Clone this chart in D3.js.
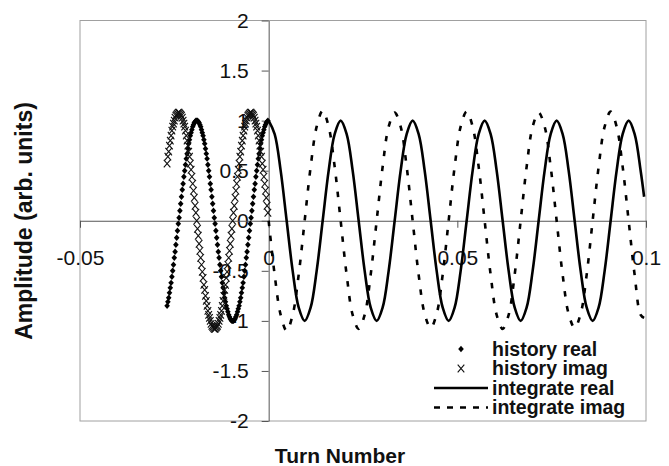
<!DOCTYPE html>
<html>
<head>
<meta charset="utf-8">
<script src="https://cdn.jsdelivr.net/npm/d3@7"></script>
<style>
  html, body { margin: 0; padding: 0; background: #fff; }
  svg { display: block; font-family: "Liberation Sans", Arial, Helvetica, sans-serif; }
</style>
</head>
<body>
<svg id="chart" width="669" height="466"></svg>
<script>
// Axis ticks
const xTicks = [-0.05, 0, 0.05, 0.1];
const yTicks = [-2, -1.5, -1, -0.5, 0, 0.5, 1, 1.5, 2];
const seriesNames = ["history real", "history imag", "integrate real", "integrate imag"];

// Recorded history, sampled at a fixed turn interval
const historyFirstTurn = -0.02692;
const historyTurnStep = 0.000212;
const historyReal = [
  -0.85, -0.81, -0.77, -0.72, -0.67, -0.62, -0.56, -0.50, -0.44, -0.37,
  -0.31, -0.24, -0.17, -0.10, -0.03, 0.03, 0.10, 0.17, 0.24, 0.31,
  0.37, 0.44, 0.50, 0.56, 0.62, 0.67, 0.72, 0.77, 0.81, 0.85,
  0.88, 0.91, 0.94, 0.96, 0.98, 0.99, 1.00, 1.00, 1.00, 0.99,
  0.98, 0.96, 0.94, 0.91, 0.88, 0.85, 0.81, 0.77, 0.72, 0.67,
  0.62, 0.56, 0.50, 0.44, 0.37, 0.31, 0.24, 0.17, 0.10, 0.03,
  -0.03, -0.10, -0.17, -0.24, -0.31, -0.37, -0.44, -0.50, -0.56, -0.62,
  -0.67, -0.72, -0.77, -0.81, -0.85, -0.88, -0.91, -0.94, -0.96, -0.98,
  -0.99, -1.00, -1.00, -1.00, -0.99, -0.98, -0.96, -0.94, -0.91, -0.88,
  -0.85, -0.81, -0.77, -0.72, -0.67, -0.62, -0.56, -0.50, -0.44, -0.37,
  -0.31, -0.24, -0.17, -0.10, -0.03, 0.03, 0.10, 0.17, 0.24, 0.31,
  0.37, 0.44, 0.50, 0.56, 0.62, 0.67, 0.72, 0.77, 0.81, 0.85,
  0.88, 0.91, 0.94, 0.96, 0.98, 0.99, 1.00
];
const historyImag = [
  0.57, 0.64, 0.69, 0.75, 0.80, 0.85, 0.90, 0.94, 0.97, 1.00,
  1.03, 1.05, 1.06, 1.07, 1.08, 1.08, 1.07, 1.06, 1.05, 1.03,
  1.00, 0.97, 0.94, 0.90, 0.85, 0.80, 0.75, 0.69, 0.64, 0.57,
  0.51, 0.44, 0.37, 0.30, 0.23, 0.15, 0.08, 0.00, -0.08, -0.15,
  -0.23, -0.30, -0.37, -0.44, -0.51, -0.57, -0.64, -0.69, -0.75, -0.80,
  -0.85, -0.90, -0.94, -0.97, -1.00, -1.03, -1.05, -1.06, -1.07, -1.08,
  -1.08, -1.07, -1.06, -1.05, -1.03, -1.00, -0.97, -0.94, -0.90, -0.85,
  -0.80, -0.75, -0.69, -0.64, -0.57, -0.51, -0.44, -0.37, -0.30, -0.23,
  -0.15, -0.08, 0.00, 0.08, 0.15, 0.23, 0.30, 0.37, 0.44, 0.51,
  0.57, 0.64, 0.69, 0.75, 0.80, 0.85, 0.90, 0.94, 0.97, 1.00,
  1.03, 1.05, 1.06, 1.07, 1.08, 1.08, 1.07, 1.06, 1.05, 1.03,
  1.00, 0.97, 0.94, 0.90, 0.85, 0.80, 0.75, 0.69, 0.64, 0.57,
  0.51, 0.44, 0.37, 0.30, 0.23, 0.15, 0.08
];

// Integrated signal, sampled at a fixed turn interval, plus its last turn
const integrateTurnStep = 0.00159;
const integrateLastTurn = 0.0995;
const integrateReal = [
  1, 0.866, 0.5, 0, -0.5, -0.866, -1, -0.866, -0.5, 0, 0.5, 0.866,
  1, 0.866, 0.5, 0, -0.5, -0.866, -1, -0.866, -0.5, 0, 0.5, 0.866,
  1, 0.866, 0.5, 0, -0.5, -0.866, -1, -0.866, -0.5, 0, 0.5, 0.866,
  1, 0.866, 0.5, 0, -0.5, -0.866, -1, -0.866, -0.5, 0, 0.5, 0.866,
  1, 0.866, 0.5, 0, -0.5, -0.866, -1, -0.866, -0.5, 0, 0.5, 0.866,
  1, 0.866, 0.5, 0.24
];
const integrateImag = [
  0, -0.54, -0.94, -1.10, -0.94, -0.54, 0, 0.54, 0.94, 1.10, 0.94, 0.54,
  0, -0.54, -0.94, -1.08, -0.94, -0.54, 0, 0.54, 0.94, 1.08, 0.94, 0.54,
  0, -0.54, -0.93, -1.07, -0.93, -0.54, 0, 0.54, 0.94, 1.09, 0.94, 0.54,
  0, -0.54, -0.94, -1.08, -0.94, -0.54, 0, 0.54, 0.94, 1.08, 0.94, 0.54,
  0, -0.54, -0.93, -1.07, -0.93, -0.54, 0, 0.54, 0.94, 1.09, 0.94, 0.54,
  0, -0.54, -0.94, -0.97
];

const historyTurns = historyReal.map((_, i) => historyFirstTurn + i * historyTurnStep);
const integrateTurns = integrateReal.map((_, i) =>
  i === integrateReal.length - 1 ? integrateLastTurn : i * integrateTurnStep);

const svg = d3.select("#chart");
const plot = { left: 80, right: 646, top: 20.5, bottom: 421 };

const x = d3.scaleLinear().domain([-0.05, 0.1]).range([plot.left, plot.right]);
const y = d3.scaleLinear().domain([-2, 2]).range([plot.bottom, plot.top]);

// Plot area frame
svg.append("rect")
  .attr("x", plot.left).attr("y", plot.top)
  .attr("width", plot.right - plot.left).attr("height", plot.bottom - plot.top)
  .attr("fill", "none").attr("stroke", "#a0a0a0").attr("stroke-width", 1);

// Axes crossing at the origin
const yAxis = svg.append("g")
  .attr("transform", `translate(${x(0)},0)`)
  .call(d3.axisLeft(y).tickValues(yTicks).tickSize(7).tickPadding(13).tickSizeOuter(0)
    .tickFormat(d => String(d)));
const xAxis = svg.append("g")
  .attr("transform", `translate(0,${y(0)})`)
  .call(d3.axisBottom(x).tickValues(xTicks).tickSize(7).tickPadding(22).tickSizeOuter(0)
    .tickFormat(d => String(d)));

[xAxis, yAxis].forEach(g => {
  g.select(".domain").attr("stroke", "#555");
  g.selectAll(".tick line").attr("stroke", "#555");
  g.selectAll(".tick text").attr("fill", "#111").attr("font-size", 21)
    .attr("font-family", "'Liberation Sans', Arial, sans-serif");
});

// Series
const diamond = "M0,-3.2L2.8,0L0,3.2L-2.8,0Z";
const cross = "M-3.3,-3.8L3.3,3.8M-3.3,3.8L3.3,-3.8";

svg.append("g").selectAll("path")
  .data(historyReal)
  .join("path")
  .attr("d", diamond)
  .attr("transform", (d, i) => `translate(${x(historyTurns[i])},${y(d)})`)
  .attr("fill", "#000");

svg.append("g").selectAll("path")
  .data(historyImag)
  .join("path")
  .attr("d", cross)
  .attr("transform", (d, i) => `translate(${x(historyTurns[i])},${y(d)})`)
  .attr("fill", "none").attr("stroke", "#111").attr("stroke-width", 1.1);

const line = d3.line()
  .x((d, i) => x(integrateTurns[i]))
  .y(d => y(d))
  .curve(d3.curveCatmullRom.alpha(0.5));

svg.append("path")
  .datum(integrateReal)
  .attr("d", line)
  .attr("fill", "none").attr("stroke", "#000").attr("stroke-width", 2.6);

svg.append("path")
  .datum(integrateImag)
  .attr("d", line)
  .attr("fill", "none").attr("stroke", "#000").attr("stroke-width", 2.6)
  .attr("stroke-dasharray", "5.5,9.5");

// Legend
const legend = svg.append("g");
const legendRows = [349, 368.5, 388, 407.5];
seriesNames.forEach((name, i) => {
  const row = legend.append("g").attr("transform", `translate(0,${legendRows[i]})`);
  if (i === 0) {
    row.append("path").attr("d", diamond).attr("transform", "translate(461,0)").attr("fill", "#000");
  } else if (i === 1) {
    row.append("path").attr("d", cross).attr("transform", "translate(461,0)")
      .attr("fill", "none").attr("stroke", "#111").attr("stroke-width", 1.1);
  } else {
    row.append("line").attr("x1", 434).attr("x2", 488).attr("y1", 0).attr("y2", 0)
      .attr("stroke", "#000").attr("stroke-width", 2.6)
      .attr("stroke-dasharray", i === 3 ? "6,7" : null);
  }
  row.append("text")
    .attr("x", 492).attr("y", 0).attr("dy", "0.35em")
    .attr("font-size", 19.5).attr("font-weight", "bold").attr("fill", "#111")
    .text(name);
});

// Axis titles
svg.append("text")
  .attr("x", 340).attr("y", 463)
  .attr("text-anchor", "middle")
  .attr("font-size", 21).attr("font-weight", "bold").attr("fill", "#111")
  .text("Turn Number");

svg.append("text")
  .attr("transform", "translate(32,221) rotate(-90)")
  .attr("text-anchor", "middle")
  .attr("font-size", 23).attr("font-weight", "bold").attr("fill", "#111")
  .text("Amplitude (arb. units)");
</script>
</body>
</html>
